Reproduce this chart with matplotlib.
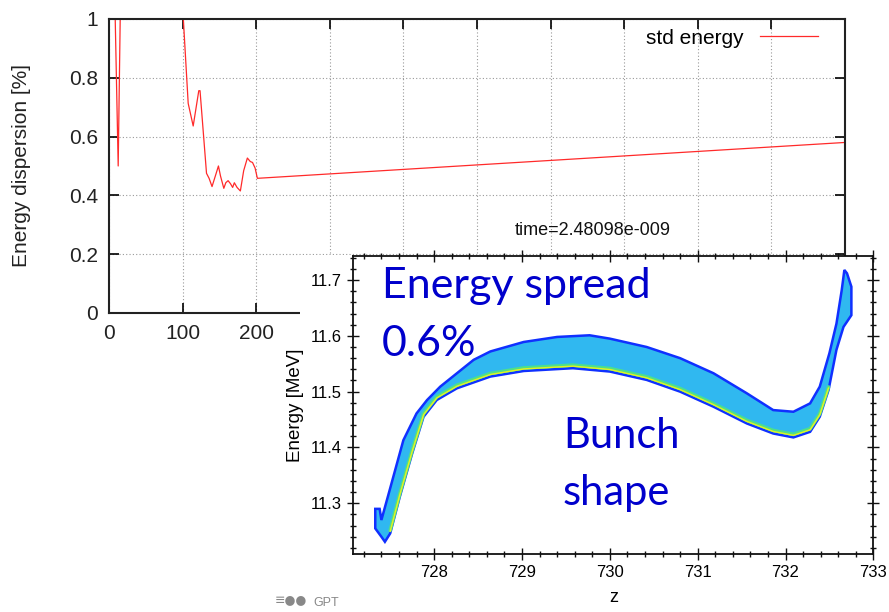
import numpy as np
import matplotlib
matplotlib.use("Agg")
from matplotlib import pyplot as plt
from matplotlib import transforms
from matplotlib.patches import Rectangle
from matplotlib.ticker import AutoMinorLocator

plt.rcParams['font.family'] = ['Liberation Sans', 'DejaVu Sans']

# std energy along the line (x = position, y = energy dispersion in %)
pos = [7, 12.5, 15.5, 20, 60, 95, 101, 107.6, 114.4, 122, 123.7, 132.5, 136, 140,
       145, 148.7, 151.5, 156, 158.7, 161.8, 165, 168, 170.3, 174, 178.5, 183,
       188, 192, 195, 198.5, 201.6, 1000]
disp = [1.18, 0.50, 1.05, 2.5, 4.0, 1.6, 1.0, 0.713, 0.636, 0.756, 0.756, 0.475,
        0.458, 0.430, 0.470, 0.500, 0.466, 0.424, 0.443, 0.450, 0.440, 0.427,
        0.443, 0.427, 0.415, 0.484, 0.527, 0.515, 0.512, 0.493, 0.458, 0.580]
x_ticks = [0, 100, 200, 300, 400, 500, 600, 700, 800, 900, 1000]
y_ticks = [0, 0.2, 0.4, 0.6, 0.8, 1]
y_ticklabels = ['0', '0.2', '0.4', '0.6', '0.8', '1']

# bunch shape: upper and lower edge of the particle cloud (z, energy in MeV)
upper_z = [727.33, 727.33, 727.38, 727.40, 727.50, 727.65, 727.80, 727.92, 728.07,
           728.26, 728.45, 728.64, 729.02, 729.40, 729.77, 730.00, 730.42, 730.80,
           731.18, 731.56, 731.86, 732.09, 732.28, 732.39, 732.50, 732.58, 732.64,
           732.67]
upper_E = [11.255, 11.290, 11.290, 11.270, 11.327, 11.413, 11.461, 11.485, 11.509,
           11.533, 11.557, 11.572, 11.589, 11.598, 11.601, 11.595, 11.580, 11.560,
           11.533, 11.497, 11.467, 11.464, 11.479, 11.509, 11.569, 11.622, 11.682,
           11.718]
lower_z = [727.33, 727.40, 727.44, 727.50, 727.61, 727.75, 727.88, 728.03, 728.26,
           728.64, 729.02, 729.58, 730.00, 730.42, 730.80, 731.18, 731.56, 731.86,
           732.09, 732.28, 732.39, 732.49, 732.58, 732.66, 732.75, 732.75, 732.70]
lower_E = [11.255, 11.240, 11.231, 11.246, 11.312, 11.389, 11.455, 11.485, 11.506,
           11.527, 11.537, 11.542, 11.536, 11.521, 11.500, 11.473, 11.443, 11.425,
           11.418, 11.428, 11.455, 11.503, 11.575, 11.616, 11.637, 11.688, 11.712]
z_ticks = [728, 729, 730, 731, 732, 733]
E_ticks = [11.3, 11.4, 11.5, 11.6, 11.7]

fig = plt.figure(figsize=(8.89, 6.12), dpi=100)

# main plot
ax = fig.add_axes([0.1226, 0.4886, 0.8279, 0.4804])
ax.plot(pos, disp, color='#ff2a2a', linewidth=0.9, label='std energy')
ax.set_xlim(0, 1000)
ax.set_ylim(0, 1)
ax.set_xticks(x_ticks)
# labels past 200 sit behind the inset picture
ax.set_xticklabels([str(t) if t <= 200 else '' for t in x_ticks])
ax.set_yticks(y_ticks)
ax.set_yticklabels(y_ticklabels)
ax.grid(color='#999999', linestyle=(0, (1, 2)), linewidth=0.8)
ax.tick_params(direction='in', length=7, width=1.2, top=True, right=True,
               labelsize=15, labelcolor='#222222', pad=8)
for s in ax.spines.values():
    s.set_linewidth(1.5)
    s.set_color('#222222')
ax.set_ylabel('Energy dispersion [%]', fontsize=15, color='#222222', labelpad=27)
ax.legend(loc='center right', bbox_to_anchor=(0.9633, 0.935), frameon=False,
          markerfirst=False, fontsize=15, handlelength=2.8, handletextpad=0.75,
          borderaxespad=0, borderpad=0)
ax.text(657, 0.279, 'time=2.48098e-009', ha='center', va='center', fontsize=13,
        color='#111111')

# white patch behind inset tick labels
fig.add_artist(Rectangle((0.3375, 0.0), 0.062, 0.583, transform=fig.transFigure,
                         facecolor='white', edgecolor='none', zorder=2))

# inset: bunch shape
axi = fig.add_axes([0.3974, 0.0943, 0.585, 0.4879], zorder=3)
axi.set_facecolor('white')
poly_z = np.concatenate([upper_z, lower_z[::-1]])
poly_E = np.concatenate([upper_E, lower_E[::-1]])
axi.fill(poly_z, poly_E, facecolor='#30b8f0', edgecolor='#1030ff', linewidth=1.8)
ridge = slice(3, 22)
up2 = transforms.offset_copy(axi.transData, fig=fig, x=0, y=2.2, units='points')
up1 = transforms.offset_copy(axi.transData, fig=fig, x=0, y=1.5, units='points')
axi.plot(lower_z[ridge], lower_E[ridge], color='#4de08a', linewidth=2.6,
         transform=up2, solid_capstyle='round')
axi.plot(lower_z[ridge], lower_E[ridge], color='#e8f020', linewidth=1.0,
         transform=up1, solid_capstyle='round')
axi.set_xlim(727.08, 733)
axi.set_ylim(11.2086, 11.7436)
axi.set_xticks(z_ticks)
axi.set_yticks(E_ticks)
axi.xaxis.set_minor_locator(AutoMinorLocator(5))
axi.yaxis.set_minor_locator(AutoMinorLocator(5))
axi.tick_params(which='both', direction='inout', top=True, right=True,
                labelsize=12, width=1.0, color='#111111')
axi.tick_params(which='major', length=9)
axi.tick_params(which='minor', length=5)
for s in axi.spines.values():
    s.set_linewidth(1.3)
    s.set_color('#111111')
axi.set_xlabel('z', fontsize=13, labelpad=6)
axi.set_ylabel('Energy [MeV]', fontsize=13.5, labelpad=5)

blue = '#0000cc'
axi.text(0.0546, 0.858, 'Energy spread', transform=axi.transAxes, fontsize=31,
         family='Lato', color=blue, ha='left', va='baseline')
axi.text(0.0546, 0.664, '0.6%', transform=axi.transAxes, fontsize=31,
         family='Lato', color=blue, ha='left', va='baseline')
axi.text(0.403, 0.356, 'Bunch', transform=axi.transAxes, fontsize=30,
         family='Lato', color=blue, ha='left', va='baseline')
axi.text(0.403, 0.165, 'shape', transform=axi.transAxes, fontsize=30,
         family='Lato', color=blue, ha='left', va='baseline')

# GPT logo
fig.text(0.309, 0.02, '\u2261\u25cf\u25cf', fontsize=9, color='#888888',
         ha='left', va='center', family='DejaVu Sans')
fig.text(0.352, 0.014, 'GPT', fontsize=9, color='#888888', ha='left', va='center')

fig.savefig('out.png', dpi=100)
